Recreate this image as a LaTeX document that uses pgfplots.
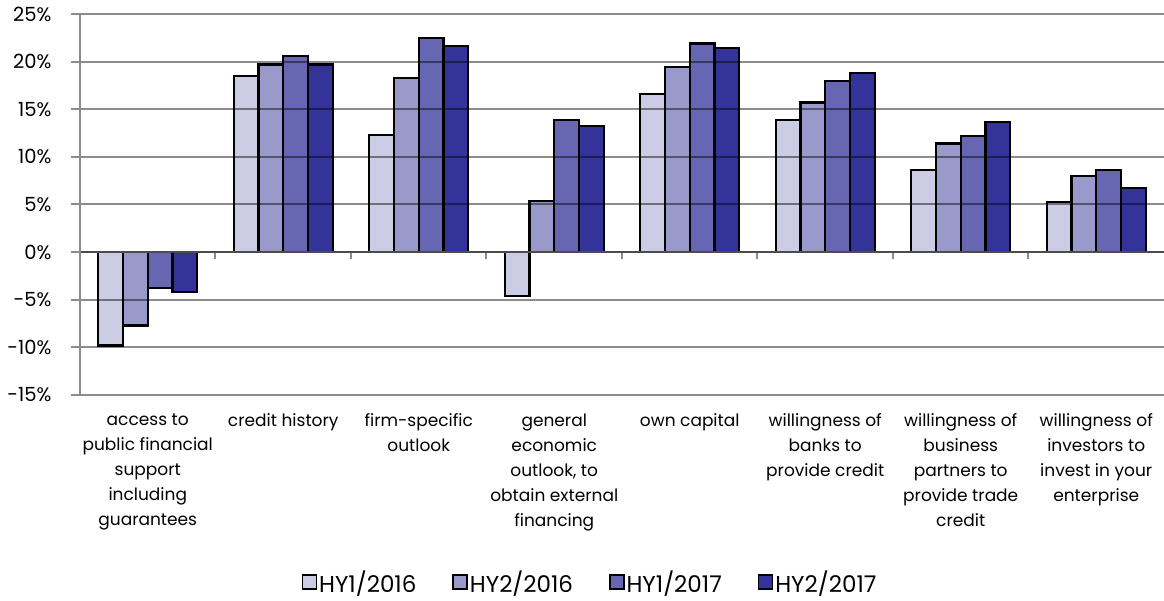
\documentclass[border=0pt]{standalone}
\usepackage{pgfplots}
\pgfplotsset{compat=1.18}
\usepackage{fontspec}
\setmainfont{Poppins}
\definecolor{c1}{HTML}{CCCCE5}
\definecolor{c2}{HTML}{9999CC}
\definecolor{c3}{HTML}{6666B2}
\definecolor{c4}{HTML}{333399}
\begin{document}
\begin{tikzpicture}
\path[use as bounding box] (0,0) rectangle (1164pt,601pt);
\begin{axis}[
  at={(80pt,206pt)}, anchor=south west,
  scale only axis, width=1084pt, height=381pt,
  ybar=0pt, bar width=24.7pt,
  xmin=-0.5, xmax=7.5, ymin=-15, ymax=25,
  axis x line*=bottom, axis y line*=left,
  x axis line style={draw=none},
  y axis line style={draw=black!45, line width=2pt, -},
  ytick={-15,-10,-5,0,5,10,15,20,25},
  yticklabels={-15\%,-10\%,-5\%,0\%,5\%,10\%,15\%,20\%,25\%},
  ytick style={draw=black!45, line width=2pt},
  xtick style={draw=none},
  major tick length=9pt, tick align=outside,
  ymajorgrids, grid style={draw=black, opacity=0.45, line width=2pt},
  axis on top,
  xtick={0,...,7},
  xticklabels={{access to\\public financial\\support\\including\\guarantees},
    {credit history},{firm-specific\\outlook},
    {general\\economic\\outlook, to\\obtain external\\financing},
    {own capital},{willingness of\\banks to\\provide credit},
    {willingness of\\business\\partners to\\provide trade\\credit},
    {willingness of\\investors to\\invest in your\\enterprise}},
  y tick label style={font=\fontsize{19.5}{24}\selectfont, anchor=east, xshift=-16pt},
  xticklabel style={font=\fontsize{17}{25}\selectfont, align=center, anchor=north, yshift=-6pt},
  legend style={at={(0.4705,-0.493)}, anchor=center, legend columns=4, draw=none,
    font=\fontsize{23}{26}\selectfont,
    /tikz/every even column/.append style={column sep=34pt}},
  legend image code/.code={\draw[#1, line width=1.5pt] (0pt,-6pt) rectangle (14pt,8pt);},
  every axis plot/.append style={draw=black, line width=2.2pt},
]
\addplot[fill=c1] coordinates {(0,-9.8) (1,18.5) (2,12.3) (3,-4.6) (4,16.6) (5,13.9) (6,8.6) (7,5.25)};
\addplot[fill=c2] coordinates {(0,-7.7) (1,19.7) (2,18.3) (3,5.35) (4,19.4) (5,15.7) (6,11.4) (7,7.95)};
\addplot[fill=c3] coordinates {(0,-3.8) (1,20.6) (2,22.5) (3,13.9) (4,21.9) (5,17.95) (6,12.2) (7,8.6)};
\addplot[fill=c4] coordinates {(0,-4.2) (1,19.7) (2,21.6) (3,13.2) (4,21.4) (5,18.8) (6,13.65) (7,6.7)};
\legend{HY1/2016,HY2/2016,HY1/2017,HY2/2017}
\draw[draw=black!45, line width=2pt] (axis cs:-0.5,0) -- (axis cs:7.5,0);
\pgfplotsinvokeforeach{0.5,1.5,2.5,3.5,4.5,5.5,6.5}{\draw[draw=black!45, line width=2pt] (axis cs:#1,0) -- ([yshift=-7pt]axis cs:#1,0);}
\end{axis}
\end{tikzpicture}
\end{document}
